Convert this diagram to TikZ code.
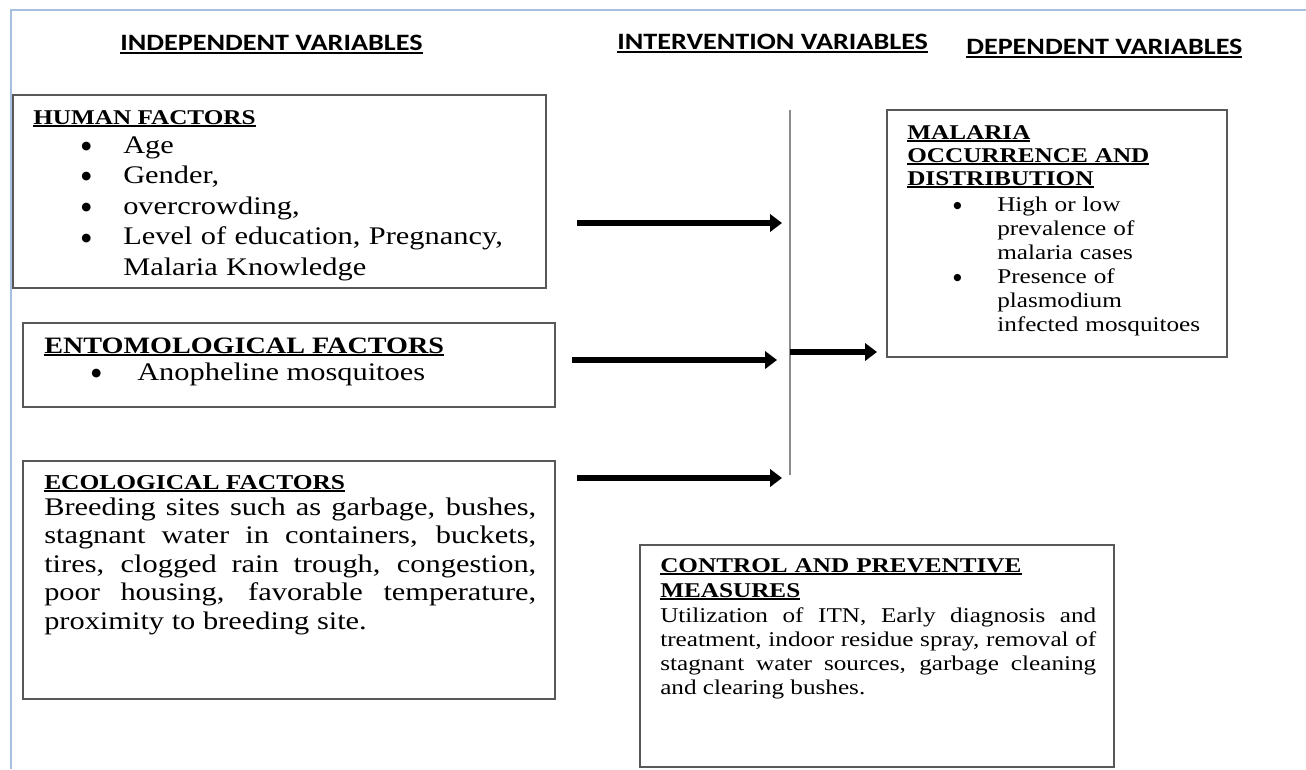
\documentclass[tikz,border=0pt]{standalone}
\usepackage{fontspec}
\setmainfont{Liberation Serif}[FakeStretch=1.2]
\newfontfamily\hdrfont{Carlito}[FakeStretch=1.2]
\newfontfamily\dotfont{DejaVu Sans}
\usetikzlibrary{arrows.meta,fit}

% one pixel of the drawing grid
\newlength\PX \setlength\PX{0.75pt}
% thick underline for titles
\newcommand\uln[1]{\leavevmode\setbox0\hbox{#1}\rlap{\rule[-3\PX]{\wd0}{1.6\PX}}\box0}
% heavy bullet, sized from the surrounding text, followed by a fixed indent
\newlength\bulsize
\newcommand\bul[1]{\leavevmode\setlength\bulsize{0.45em}%
  \makebox[#1][l]{\raisebox{0.14em}{\dotfont\fontsize{\bulsize}{\bulsize}\selectfont ●}}}

\definecolor{framecol}{RGB}{166,192,226}
\definecolor{boxcol}{RGB}{88,88,88}
\definecolor{barcol}{RGB}{140,140,140}

\begin{document}
\begin{tikzpicture}[x=0.75pt, y=-0.75pt,
  frameline/.style={draw=framecol, line width=1.5pt},
  boxst/.style={draw=boxcol, line width=1.5pt, inner sep=0pt},
  txt/.style={inner sep=0pt, anchor=base west, align=left},
  header/.style={txt, font=\hdrfont\bfseries\fontsize{17.6}{21}\selectfont},
  bigtext/.style={font=\fontsize{19}{22.9}\selectfont},
  smalltitle/.style={font=\fontsize{15.75}{17.25}\selectfont\bfseries},
  smalltext/.style={font=\fontsize{15.75}{18}\selectfont},
  barline/.style={draw=barcol, line width=1.8pt},
  flow/.style={draw=black, line width=4.8pt, -{Triangle[length=9pt, width=13pt]}}
]
\useasboundingbox (0,0) rectangle (1306,769);

% page frame
\coordinate (frTL) at (11,10);
\coordinate (frTR) at (1306,10);
\coordinate (frBL) at (11,769);
\draw[frameline] (frBL) -- (frTL) -- (frTR);

% column headers
\node[header] (hindep) at (120,50.5) {\uln{INDEPENDENT VARIABLES}};
\node[header] (hinter) at (617,49.5) {\uln{INTERVENTION VARIABLES}};
\node[header] (hdep)   at (966,54.5) {\uln{DEPENDENT VARIABLES}};

% human factors
\node[boxst, fit={(13,95) (546,288)}] (human) {};
\node[txt, font=\fontsize{15.75}{18}\selectfont\bfseries] (humantitle) at (33,124) {\uln{HUMAN FACTORS}};
\node[txt, bigtext, text width=330pt] (humanlist) at (81,153) {%
  \bul{42\PX}Age\\
  \bul{42\PX}Gender,\\
  \bul{42\PX}overcrowding,\\
  \bul{42\PX}Level of education, Pregnancy,\\
  \hspace*{42\PX}Malaria Knowledge};

% entomological factors
\node[boxst, fit={(23,323) (555,407)}] (ento) {};
\node[txt, font=\fontsize{17.6}{21}\selectfont\bfseries] (entotitle) at (44,353) {\uln{ENTOMOLOGICAL FACTORS}};
\node[txt, bigtext] (entolist) at (91,380) {\bul{46\PX}Anopheline mosquitoes};

% ecological factors
\node[boxst, fit={(23,461) (555,699)}] (eco) {};
\node[txt, font=\fontsize{15.9}{18}\selectfont\bfseries] (ecotitle) at (44,489) {\uln{ECOLOGICAL FACTORS}};
\node[txt, align=justify, text width=369pt, font=\fontsize{19}{21.4}\selectfont] (ecotext) at (44,515) {%
  Breeding sites such as garbage, bushes,\linebreak
  stagnant water in containers, buckets,\linebreak
  tires, clogged rain trough, congestion,\linebreak
  poor housing, favorable temperature,\linebreak
  proximity to breeding site.};

% control and preventive measures
\node[boxst, fit={(640,545) (1114,767)}] (ctrl) {};
\node[txt, text width=320pt, font=\fontsize{15.75}{18.75}\selectfont\bfseries] (ctrltitle) at (660,572) {\uln{CONTROL AND PREVENTIVE}\\\uln{MEASURES}};
\node[txt, align=justify, text width=327pt, smalltext] (ctrltext) at (660,622) {%
  Utilization of ITN, Early diagnosis and\linebreak
  treatment, indoor residue spray, removal of\linebreak
  stagnant water sources, garbage cleaning\linebreak
  and clearing bushes.};

% malaria occurrence and distribution
\node[boxst, fit={(887,110) (1227,357)}] (malaria) {};
\node[txt, smalltitle, text width=240pt] (maltitle) at (907,139) {\uln{MALARIA}\\\uln{OCCURRENCE AND}\\\uln{DISTRIBUTION}};
\node[txt, smalltext, text width=210pt] (mallist) at (953,211) {%
  \bul{44\PX}High or low\\
  \hspace*{44\PX}prevalence of\\
  \hspace*{44\PX}malaria cases\\
  \bul{44\PX}Presence of\\
  \hspace*{44\PX}plasmodium\\
  \hspace*{44\PX}infected mosquitoes};

% intervention bar
\coordinate (bartop) at (790,110);
\coordinate (barbot) at (790,475);
\draw[barline] (bartop) -- (barbot);

% arrows into the bar and on to the outcome
\coordinate (a1s) at (577,223);
\coordinate (a1e) at (782,223);
\coordinate (a2s) at (572,360);
\coordinate (a2e) at (777,360);
\coordinate (a3s) at (577,478);
\coordinate (a3e) at (782,478);
\coordinate (barmid) at (790,352);
\coordinate (malin) at (877,352);
\draw[flow] (a1s) -- (a1e);
\draw[flow] (a2s) -- (a2e);
\draw[flow] (a3s) -- (a3e);
\draw[flow] (barmid) -- (malin);
\end{tikzpicture}
\end{document}
